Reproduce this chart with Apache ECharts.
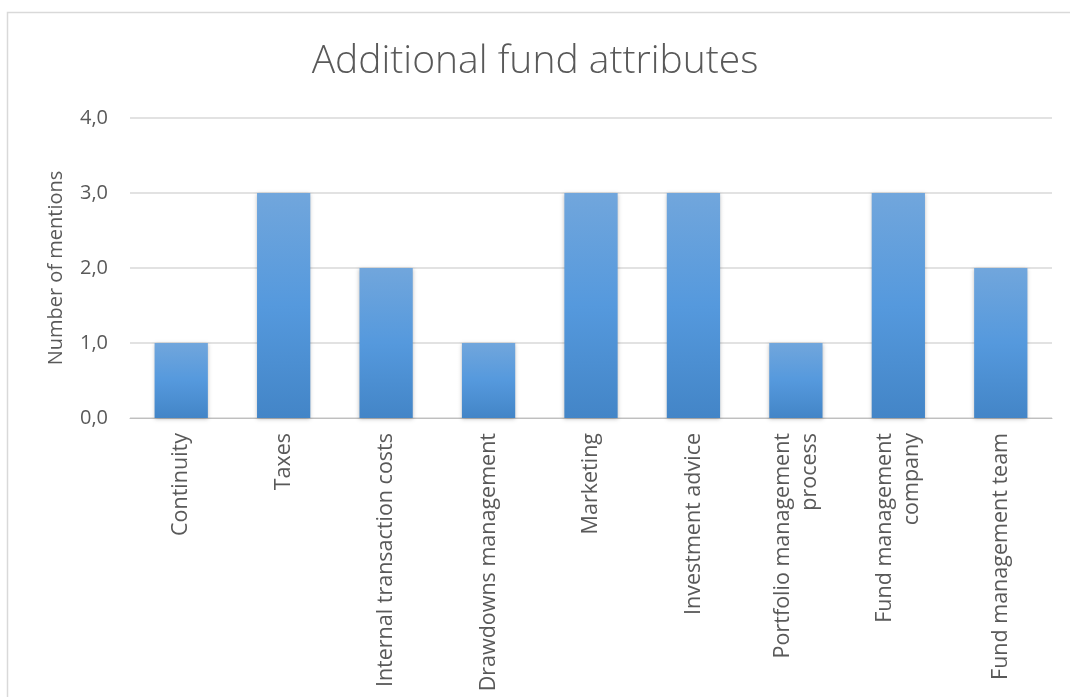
<!DOCTYPE html>
<html><head><meta charset="utf-8">
<script src="https://cdn.jsdelivr.net/npm/echarts@6/dist/echarts.min.js"></script>
<style>html,body{margin:0;padding:0;background:#fff}#c{width:1070px;height:697px}</style>
</head><body><div id="c"></div>
<script>
var categories = ["Continuity","Taxes","Internal transaction costs","Drawdowns management","Marketing","Investment advice","Portfolio management\nprocess","Fund management\ncompany","Fund management team"];
var mentions = [1,3,2,1,3,3,1,3,2];
var yTicks = [0,1,2,3,4];

var LF = "'Open Sans', 'Noto Sans', sans-serif";
var chart = echarts.init(document.getElementById('c'));
chart.setOption({
  animation:false,
  backgroundColor:'#fff',
  graphic:[{type:'rect',shape:{x:7.5,y:12.5,width:1080,height:700},style:{fill:'none',stroke:'#d9d9d9',lineWidth:1.5},silent:true}],
  title:{text:'Additional fund attributes',left:'center',top:37,textStyle:{fontFamily:"'Open Sans'",fontWeight:300,fontSize:39,color:'#595959'}},
  grid:{left:130,right:18,top:118,bottom:279,containLabel:false},
  xAxis:{type:'category',data:categories,
    axisLine:{lineStyle:{color:'#bfbfbf',width:1}},axisTick:{show:false},
    axisLabel:{rotate:90,interval:0,margin:15,fontFamily:LF,fontSize:21.5,color:'#595959',lineHeight:27,align:'right',verticalAlign:'middle'}},
  yAxis:{type:'value',min:0,max:4,interval:1,
    name:'Number of mentions',nameLocation:'middle',nameGap:64,nameRotate:90,
    nameTextStyle:{fontFamily:LF,fontSize:20,color:'#595959'},
    axisLine:{show:false},axisTick:{show:false},
    splitLine:{lineStyle:{color:'#d9d9d9',width:1.5}},
    axisLabel:{margin:22,fontFamily:LF,fontSize:20,color:'#595959',formatter:function(v){return v.toFixed(1).replace('.',',');}}},
  series:[{type:'bar',data:mentions,barWidth:'52%',
    itemStyle:{color:new echarts.graphic.LinearGradient(0,0,0,1,[{offset:0,color:'#71a6dc'},{offset:0.5,color:'#5599dd'},{offset:1,color:'#4385c7'}]),
      shadowColor:'rgba(0,0,0,0.25)',shadowBlur:4,shadowOffsetX:0,shadowOffsetY:1}}]
});
</script></body></html>
